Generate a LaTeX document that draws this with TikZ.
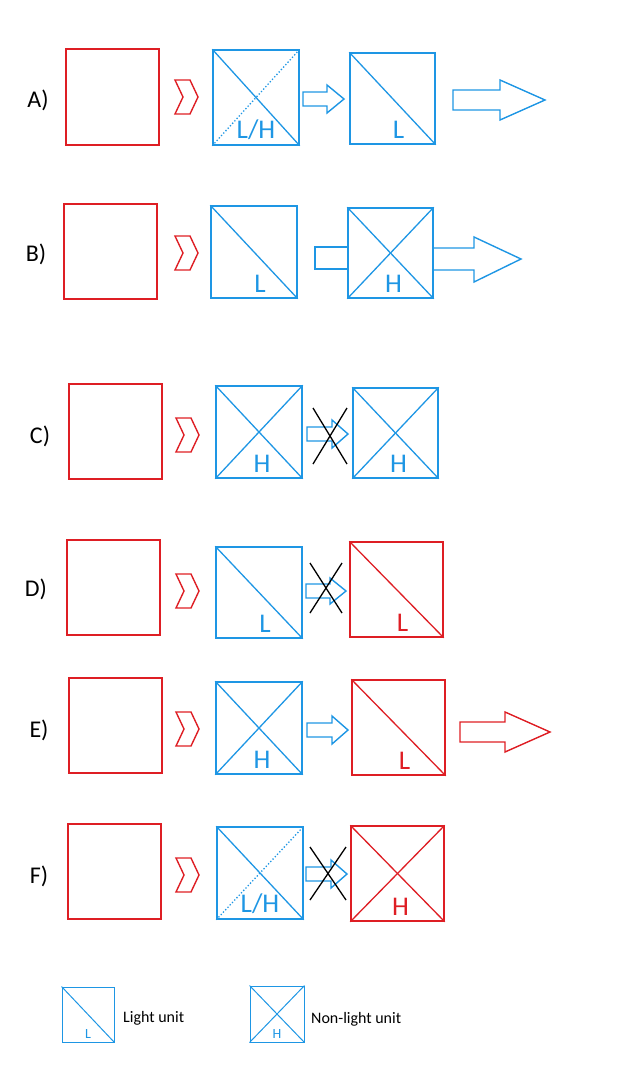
\documentclass[tikz,border=0pt]{standalone}
\usepackage{fontspec}
\setmainfont{Carlito}
\definecolor{ub}{RGB}{30,150,228}
\definecolor{ur}{RGB}{222,30,36}
\newcommand{\ubx}[7]{% name, x1,y1,x2,y2, color, type(0 none,1 L,2 H,3 LH)
  \node[draw=#6,line width=1.5pt,inner sep=0,minimum width={(#4-#2)*1pt},minimum height={(#5-#3)*1pt}] (#1) at ({(#2+#4)/2},{(#3+#5)/2}) {};
  \ifnum#7>0 \draw[#6,line width=1.3pt] (#1.north west)--(#1.south east);\fi
  \ifnum#7=2 \draw[#6,line width=1.3pt] (#1.south west)--(#1.north east);\fi
  \ifnum#7=3 \draw[#6,line width=1.3pt,dotted] (#1.south west)--(#1.north east);\fi
  \ifnum#7=1 \node[lab,text=#6] at ([xshift=6pt,yshift=15pt]#1.south) {L};\fi
  \ifnum#7=2 \node[lab,text=#6] at ([xshift=3pt,yshift=15pt]#1.south) {H};\fi
  \ifnum#7=3 \node[lab,text=#6] at ([yshift=16pt]#1.south) {L/H};\fi
}
\newcommand{\chev}[2]{\draw[ur,line width=1.4pt] (#1,#2-17)--(#1+15,#2-17)--(#1+23,#2)--(#1+15,#2+17)--(#1,#2+17)--(#1+8,#2)--cycle;}
\newcommand{\barr}[7]{% x1,x2,yc,hb,hh,headlen,color
  \draw[#7,line width=1.4pt,line join=miter] (#1,#3-#4)--(#2-#6,#3-#4)--(#2-#6,#3-#5)--(#2,#3)--(#2-#6,#3+#5)--(#2-#6,#3+#4)--(#1,#3+#4)--cycle;}
\newcommand{\xx}[4]{\draw[black,line width=1.3pt] (#1,#2)--(#3,#4) (#1,#4)--(#3,#2);}
\begin{document}
\begin{tikzpicture}[x=1pt,y=-1pt,lab/.style={font=\fontsize{27}{27}\selectfont,inner sep=0},
 rl/.style={font=\fontsize{24}{24}\selectfont,inner sep=0}]
\useasboundingbox (0,0) rectangle (637,1080);
% A
\node[rl] (la) at (38,100) {A)};
\ubx{ra}{66}{49}{159}{145}{ur}{0}
\chev{175}{97}
\ubx{a1}{213}{50}{299}{145}{ub}{3}
\barr{303}{344}{99}{7}{14}{17}{ub}
\ubx{a2}{350}{53}{435}{144}{ub}{1}
\barr{453}{545}{100}{10}{20}{45}{ub}
% B
\node[rl] (lb) at (36,254) {B)};
\ubx{rb}{64}{204}{157}{299}{ur}{0}
\chev{175}{253}
\ubx{b1}{211}{206}{297}{298}{ub}{1}
\ubx{b2}{348}{208}{433}{298}{ub}{2}
\draw[ub,line width=1.4pt] (b2.west|-0,247)--(315,247)--(315,269)--(b2.west|-0,269);
\draw[ub,line width=1.4pt,line join=miter] (b2.east|-0,248)--(474,248)--(474,237)--(521,259)--(474,282)--(474,270)--(b2.east|-0,270);
% C
\node[rl] (lc) at (40,436) {C)};
\ubx{rc}{69}{384}{162}{479}{ur}{0}
\chev{176}{435}
\ubx{c1}{216}{386}{302}{478}{ub}{2}
\barr{307}{348}{434}{7}{14}{16}{ub}
\xx{313}{408}{347}{464}
\ubx{c2}{353}{388}{438}{478}{ub}{2}
% D
\node[rl] (ld) at (36,589) {D)};
\ubx{rd}{67}{540}{160}{635}{ur}{0}
\chev{176}{591}
\ubx{d1}{216}{547}{302}{638}{ub}{1}
\barr{306}{346}{591}{7}{13}{16}{ub}
\xx{310}{563}{342}{613}
\ubx{d2}{350}{542}{443}{637}{ur}{1}
% E
\node[rl] (le) at (39,730) {E)};
\ubx{re}{69}{678}{162}{773}{ur}{0}
\chev{176}{729}
\ubx{e1}{216}{682}{302}{774}{ub}{2}
\barr{307}{348}{730}{7}{14}{16}{ub}
\ubx{e2}{352}{680}{445}{775}{ur}{1}
\barr{460}{550}{732}{10}{20}{45}{ur}
% F
\node[rl] (lf) at (39,876) {F)};
\ubx{rf}{68}{824}{161}{919}{ur}{0}
\chev{176}{875}
\ubx{f1}{217}{827}{303}{919}{ub}{3}
\barr{306}{347}{874}{7}{14}{16}{ub}
\xx{310}{847}{346}{900}
\ubx{f2}{351}{826}{444}{921}{ur}{2}
% legend
\node[draw=ub,line width=1pt,inner sep=0,minimum width=52pt,minimum height=55pt] (g1) at (88,1014.5) {};
\draw[ub,line width=1pt] (g1.north west)--(g1.south east);
\node[text=ub,font=\fontsize{14}{14}\selectfont,inner sep=0] at ([yshift=9pt]g1.south) {L};
\node[anchor=west,font=\fontsize{16}{16}\selectfont,inner sep=0] (t1) at (123,1018) {Light unit};
\node[draw=ub,line width=1pt,inner sep=0,minimum width=54pt,minimum height=56pt] (g2) at (277,1014) {};
\draw[ub,line width=1pt] (g2.north west)--(g2.south east) (g2.south west)--(g2.north east);
\node[text=ub,font=\fontsize{14}{14}\selectfont,inner sep=0] at ([yshift=9pt]g2.south) {H};
\node[anchor=west,font=\fontsize{16}{16}\selectfont,inner sep=0] (t2) at (311,1019) {Non-light unit};
\end{tikzpicture}
\end{document}
